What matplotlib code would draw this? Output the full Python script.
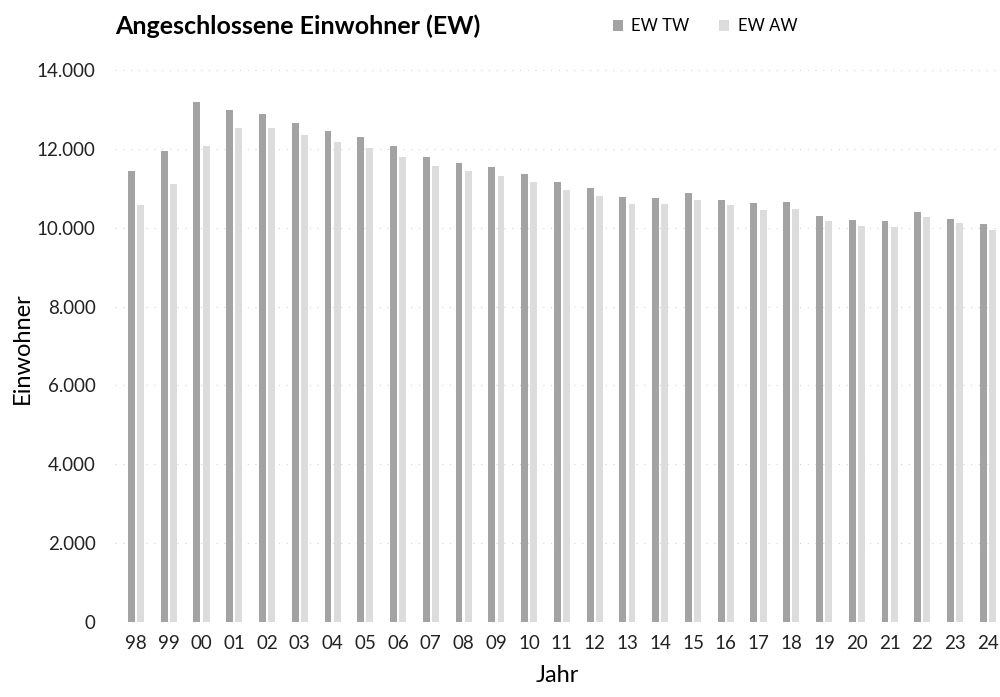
import matplotlib.pyplot as plt
import numpy as np
from matplotlib.ticker import FuncFormatter

plt.rcParams['font.family'] = ['Lato', 'DejaVu Sans']

jahre = ["98", "99", "00", "01", "02", "03", "04", "05", "06", "07", "08", "09", "10",
         "11", "12", "13", "14", "15", "16", "17", "18", "19", "20", "21", "22", "23", "24"]
ew_tw = [11450, 11950, 13190, 12980, 12880, 12660, 12440, 12290, 12060, 11800, 11630, 11530, 11360,
         11170, 11000, 10790, 10750, 10870, 10710, 10620, 10640, 10290, 10200, 10160, 10410, 10220, 10090]
ew_aw = [10580, 11110, 12080, 12540, 12540, 12350, 12180, 12010, 11800, 11570, 11440, 11320, 11160,
         10960, 10810, 10600, 10600, 10700, 10570, 10460, 10470, 10160, 10050, 10030, 10260, 10110, 9950]

fig = plt.figure(figsize=(10, 6.97), dpi=100)
ax = fig.add_axes([0.115, 0.1076, 0.885, 0.792])

x = np.arange(len(jahre))
w = 0.21
ax.bar(x - 0.14, ew_tw, w, color='#a3a3a3', label='EW TW')
ax.bar(x + 0.14, ew_aw, w, color='#dcdcdc', label='EW AW')

ax.set_xlim(-0.64, 26.37)
ax.set_ylim(0, 14000)
ax.set_yticks(range(0, 14001, 2000))
ax.yaxis.set_major_formatter(FuncFormatter(lambda v, p: f"{int(v):,}".replace(",", ".")))
ax.set_xticks(x)
ax.set_xticklabels(jahre)
ax.tick_params(length=0, labelsize=13.5, colors='#222222')
ax.tick_params(axis='y', pad=14)
ax.tick_params(axis='x', pad=9)
for s in ax.spines.values():
    s.set_visible(False)
ax.yaxis.grid(True, linestyle=(0, (1, 6)), color='#d4d4d4', linewidth=0.8)
ax.set_axisbelow(True)

fig.text(0.022, 0.5, "Einwohner", fontsize=17, rotation=90, va='center', ha='center')
ax.set_xlabel("Jahr", fontsize=17, labelpad=10)
fig.text(0.115, 0.962, "Angeschlossene Einwohner (EW)", fontsize=18, fontweight='bold', va='center')
fig.legend(loc='center', bbox_to_anchor=(0.705, 0.962), ncol=2, frameon=False, fontsize=12,
           handlelength=0.6, handleheight=0.6, columnspacing=1.8, handletextpad=0.5)

fig.savefig("out.png", dpi=100)
